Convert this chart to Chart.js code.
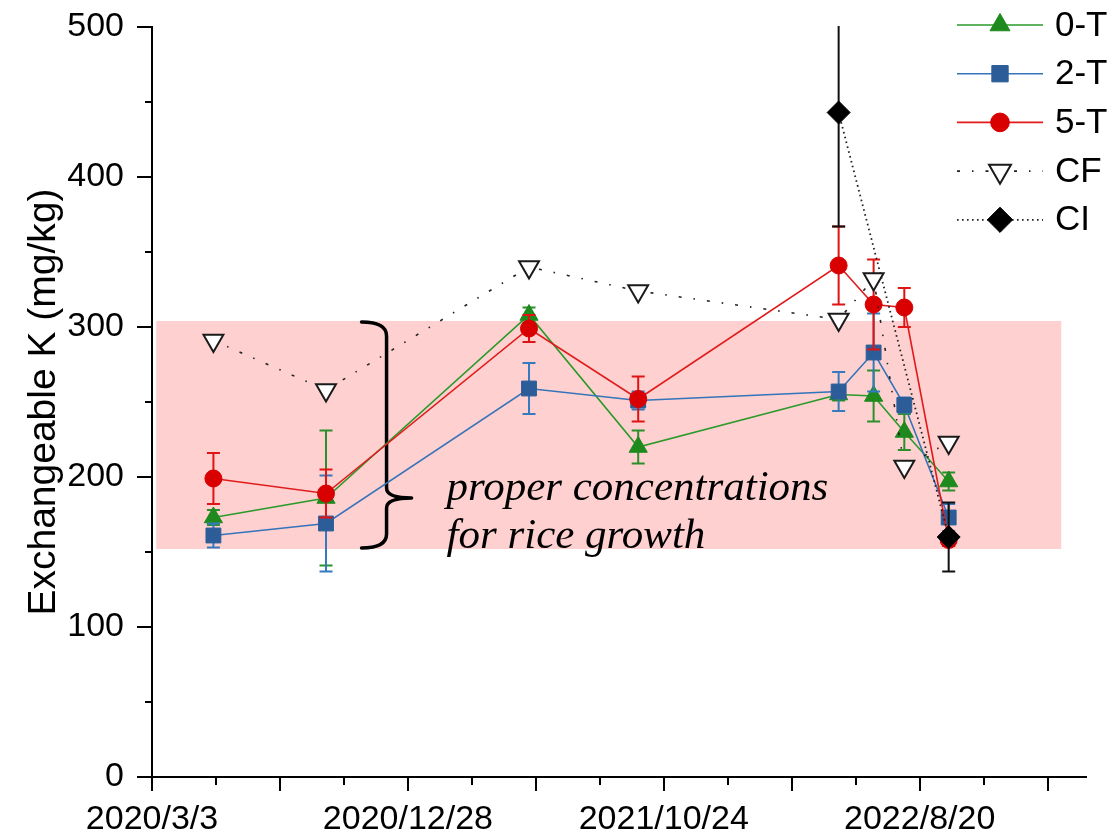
<!DOCTYPE html>
<html>
<head>
<meta charset="utf-8">
<title>Exchangeable K</title>
<script src="https://cdn.jsdelivr.net/npm/chart.js@4.4.1/dist/chart.umd.min.js"></script>
<style>
  html, body { margin: 0; padding: 0; background: #ffffff; }
  #wrap { width: 1120px; height: 834px; position: relative; }
</style>
</head>
<body>
<div id="wrap"><canvas id="chart" width="1120" height="834"></canvas></div>
<script>
// ---- data ----
const sampleDates = ['2020/5/14', '2020/9/23', '2021/5/19', '2021/9/24', '2022/5/17', '2022/6/27', '2022/8/2', '2022/9/23'];
const k0T    = [173, 186, 308, 220, 255, 254, 230, 197];
const k0TErr = [5, 45, 5, 11, 4, 17, 12, 6];
const k2T    = [161, 169, 259, 251, 257, 283, 248, 173];
const k2TErr = [8, 32, 17, 6, 13, 26, 5, 9];
const k5T    = [199, 189, 299, 252, 341, 315, 313, 158];
const k5TErr = [17, 16, 9, 15, 26, 30, 13, 4];
const kCF    = [291, 258, 340, 324, 305, 332, 207, 223];
const ciDates = ['2022/5/17', '2022/9/23'];
const kCI    = [443, 160];
const kCIErr = [76, 23];

const properRange = [152, 304];              // mg/kg, proper K for rice
const properDates = ['2020/3/8', '2023/2/2'];
const braceDate = '2020/12/3';
const axisDates = ['2020/3/3', '2023/3/3'];
const xLabelDates = ['2020/3/3', '2020/12/28', '2021/10/24', '2022/8/20'];
const yTickValues = [0, 100, 200, 300, 400, 500];

// ---- helpers ----
const DAY = 86400000;
const [oy, om, od] = axisDates[0].split('/').map(Number);
const ORIGIN = Date.UTC(oy, om - 1, od);
function dayOf(s) {
  const [y, m, d] = s.split('/').map(Number);
  return Math.round((Date.UTC(y, m - 1, d) - ORIGIN) / DAY);
}
function dateOf(n) {
  const t = new Date(ORIGIN + n * DAY);
  return t.getUTCFullYear() + '/' + (t.getUTCMonth() + 1) + '/' + t.getUTCDate();
}
const pts = (dates, vals) => dates.map((d, i) => ({ x: dayOf(d), y: vals[i] }));
const labelDays = xLabelDates.map(dayOf);
const X_STEP = 75;

const SANS = '"Liberation Sans", Arial, sans-serif';

// pink band, brace and caption
const bandPlugin = {
  id: 'properBand',
  beforeDatasetsDraw(chart) {
    const { ctx, scales: { x, y } } = chart;
    const x0 = x.getPixelForValue(dayOf(properDates[0]));
    const x1 = x.getPixelForValue(dayOf(properDates[1]));
    const yTop = y.getPixelForValue(properRange[1]);
    const yBot = y.getPixelForValue(properRange[0]);
    ctx.save();
    ctx.fillStyle = '#ffd0d0';
    ctx.fillRect(x0, yTop, x1 - x0, yBot - yTop);

    // curly brace
    const xv = x.getPixelForValue(dayOf(braceDate));
    const tip = y.getPixelForValue(186);
    const top = yTop + 1, bot = yBot - 1;
    ctx.strokeStyle = '#000';
    ctx.lineWidth = 3.5;
    ctx.lineCap = 'round';
    ctx.lineJoin = 'round';
    ctx.beginPath();
    ctx.moveTo(xv - 25, top);
    ctx.quadraticCurveTo(xv, top, xv, top + 14);
    ctx.lineTo(xv, tip - 10);
    ctx.quadraticCurveTo(xv, tip, xv + 25, tip);
    ctx.quadraticCurveTo(xv, tip, xv, tip + 10);
    ctx.lineTo(xv, bot - 14);
    ctx.quadraticCurveTo(xv, bot, xv - 25, bot);
    ctx.stroke();

    // caption
    ctx.fillStyle = '#000';
    ctx.font = 'italic 43px "Liberation Serif", "Times New Roman", serif';
    ctx.textAlign = 'left';
    ctx.textBaseline = 'alphabetic';
    ctx.fillText('proper concentrations', xv + 60, tip + 2);
    ctx.fillText('for rice growth', xv + 60, tip + 50);
    ctx.restore();
  }
};

// vertical error bars, drawn just under each series
const errorBarPlugin = {
  id: 'errorBars',
  beforeDatasetDraw(chart, args) {
    const ds = chart.data.datasets[args.index];
    if (!ds.errors) return;
    const { ctx, chartArea, scales: { x, y } } = chart;
    ctx.save();
    ctx.beginPath();
    ctx.rect(chartArea.left, chartArea.top - 1, chartArea.right - chartArea.left, chartArea.bottom - chartArea.top + 2);
    ctx.clip();
    ctx.strokeStyle = ds.errorColor;
    ctx.lineWidth = 2;
    ds.data.forEach((p, i) => {
      const e = ds.errors[i];
      const px = x.getPixelForValue(p.x);
      const yt = y.getPixelForValue(p.y + e);
      const yb = y.getPixelForValue(p.y - e);
      ctx.beginPath();
      ctx.moveTo(px, yt); ctx.lineTo(px, yb);
      ctx.moveTo(px - 6.5, yt); ctx.lineTo(px + 6.5, yt);
      ctx.moveTo(px - 6.5, yb); ctx.lineTo(px + 6.5, yb);
      ctx.stroke();
    });
    ctx.restore();
  }
};

// outward major/minor tick marks
const tickPlugin = {
  id: 'tickMarks',
  afterDraw(chart) {
    const { ctx, chartArea, scales: { x, y } } = chart;
    ctx.save();
    ctx.strokeStyle = '#000';
    ctx.lineWidth = 2;
    ctx.beginPath();
    for (let v = y.min; v <= y.max; v += 50) {
      const py = Math.round(y.getPixelForValue(v));
      const len = v % 100 === 0 ? 15 : 7;
      ctx.moveTo(chartArea.left - len, py);
      ctx.lineTo(chartArea.left, py);
    }
    for (let d = 0; d <= x.max; d += X_STEP) {
      const px = Math.round(x.getPixelForValue(d));
      const len = d % (2 * X_STEP) === 0 ? 14 : 8;
      ctx.moveTo(px, chartArea.bottom);
      ctx.lineTo(px, chartArea.bottom + len);
    }
    ctx.stroke();
    ctx.restore();
  }
};

function markerPath(ctx, style, r, rot, cx, cy) {
  ctx.beginPath();
  if (style === 'circle') {
    ctx.arc(cx, cy, r, 0, Math.PI * 2);
  } else if (style === 'rect') {
    const h = r * Math.SQRT1_2;
    ctx.rect(cx - h, cy - h, 2 * h, 2 * h);
  } else if (style === 'rectRot') {
    ctx.moveTo(cx - r, cy); ctx.lineTo(cx, cy - r); ctx.lineTo(cx + r, cy); ctx.lineTo(cx, cy + r);
  } else if (style === 'triangle') {
    let a = (rot || 0) * Math.PI / 180;
    ctx.moveTo(cx + Math.sin(a) * r, cy - Math.cos(a) * r);
    a += 2 * Math.PI / 3;
    ctx.lineTo(cx + Math.sin(a) * r, cy - Math.cos(a) * r);
    a += 2 * Math.PI / 3;
    ctx.lineTo(cx + Math.sin(a) * r, cy - Math.cos(a) * r);
  }
  ctx.closePath();
}

// legend: line sample + marker + name
const legendPlugin = {
  id: 'lineLegend',
  afterDatasetsDraw(chart) {
    const { ctx, chartArea } = chart;
    const lx0 = chartArea.right - 129, lx1 = chartArea.right - 43, mx = chartArea.right - 86;
    ctx.save();
    chart.data.datasets.forEach((ds, i) => {
      const ly = 25 + i * 48.7;
      ctx.strokeStyle = ds.borderColor;
      ctx.lineWidth = ds.borderWidth;
      ctx.setLineDash(ds.borderDash || []);
      ctx.beginPath();
      ctx.moveTo(lx0, ly); ctx.lineTo(lx1, ly);
      ctx.stroke();
      ctx.setLineDash([]);
      markerPath(ctx, ds.pointStyle, ds.pointRadius * 1.1, ds.pointRotation, mx, ly);
      ctx.fillStyle = ds.pointBackgroundColor;
      ctx.fill();
      ctx.lineWidth = ds.pointBorderWidth;
      ctx.strokeStyle = ds.pointBorderColor;
      ctx.stroke();
      ctx.fillStyle = '#000';
      ctx.font = '35px ' + SANS;
      ctx.textAlign = 'left';
      ctx.textBaseline = 'middle';
      ctx.fillText(ds.label, chartArea.right - 31, ly + 1);
    });
    ctx.restore();
  }
};

const datasets = [
  {
    label: '0-T', data: pts(sampleDates, k0T), errors: k0TErr, errorColor: '#2b8f2b',
    borderColor: '#2a9a2a', borderWidth: 1.6,
    pointStyle: 'triangle', pointRadius: 10.5, pointRotation: 0,
    pointBackgroundColor: '#1e8a1e', pointBorderColor: '#1e8a1e', pointBorderWidth: 1,
    order: 4
  },
  {
    label: '2-T', data: pts(sampleDates, k2T), errors: k2TErr, errorColor: '#3579bf',
    borderColor: '#3474ba', borderWidth: 1.6,
    pointStyle: 'rect', pointRadius: 10.5, pointRotation: 0,
    pointBackgroundColor: '#2c5d98', pointBorderColor: '#2c5d98', pointBorderWidth: 1,
    order: 3
  },
  {
    label: '5-T', data: pts(sampleDates, k5T), errors: k5TErr, errorColor: '#e01414',
    borderColor: '#e01b1b', borderWidth: 1.6,
    pointStyle: 'circle', pointRadius: 8.5, pointRotation: 0,
    pointBackgroundColor: '#d80000', pointBorderColor: '#d80000', pointBorderWidth: 1,
    order: 2
  },
  {
    label: 'CF', data: pts(sampleDates, kCF),
    borderColor: '#222222', borderWidth: 1.6, borderDash: [3, 12, 1.5, 12],
    pointStyle: 'triangle', pointRadius: 11.5, pointRotation: 180,
    pointBackgroundColor: '#ffffff', pointBorderColor: '#1a1a1a', pointBorderWidth: 2,
    order: 1
  },
  {
    label: 'CI', data: pts(ciDates, kCI), errors: kCIErr, errorColor: '#111111',
    borderColor: '#222222', borderWidth: 1.8, borderDash: [1.6, 3.4],
    pointStyle: 'rectRot', pointRadius: 11.5, pointRotation: 0,
    pointBackgroundColor: '#000000', pointBorderColor: '#000000', pointBorderWidth: 1,
    order: 0
  }
];
datasets.forEach(d => { d.tension = 0; d.fill = false; d.pointHoverRadius = d.pointRadius; });

new Chart(document.getElementById('chart'), {
  type: 'line',
  data: { datasets },
  plugins: [bandPlugin, errorBarPlugin, tickPlugin, legendPlugin],
  options: {
    responsive: false,
    animation: false,
    events: [],
    layout: { padding: { top: 27, right: 34, left: 0, bottom: 0 } },
    plugins: { legend: { display: false }, tooltip: { enabled: false } },
    scales: {
      x: {
        type: 'linear',
        min: 0,
        max: dayOf(axisDates[1]),
        afterBuildTicks(scale) {
          const t = [];
          for (let d = 0; d <= scale.max; d += X_STEP) t.push({ value: d });
          scale.ticks = t;
        },
        afterFit(scale) { scale.height = 57; scale.paddingLeft = 0; scale.paddingRight = 0; },
        grid: { display: false, drawTicks: false },
        border: { display: true, color: '#000', width: 2 },
        ticks: {
          autoSkip: false, maxRotation: 0, minRotation: 0, padding: 22,
          color: '#000', font: { family: SANS, size: 34 },
          callback: v => labelDays.includes(v) ? dateOf(v) : ''
        }
      },
      y: {
        min: yTickValues[0],
        max: yTickValues[yTickValues.length - 1],
        afterBuildTicks(scale) { scale.ticks = yTickValues.map(v => ({ value: v })); },
        afterFit(scale) { scale.width = 152; scale.paddingTop = 0; scale.paddingBottom = 0; },
        grid: { display: false, drawTicks: false },
        border: { display: true, color: '#000', width: 2 },
        ticks: { padding: 28, color: '#000', font: { family: SANS, size: 34 } },
        title: {
          display: true, text: 'Exchangeable K (mg/kg)', color: '#000',
          font: { family: SANS, size: 39 }, padding: { top: 21, bottom: 0 }
        }
      }
    }
  }
});
</script>
</body>
</html>
